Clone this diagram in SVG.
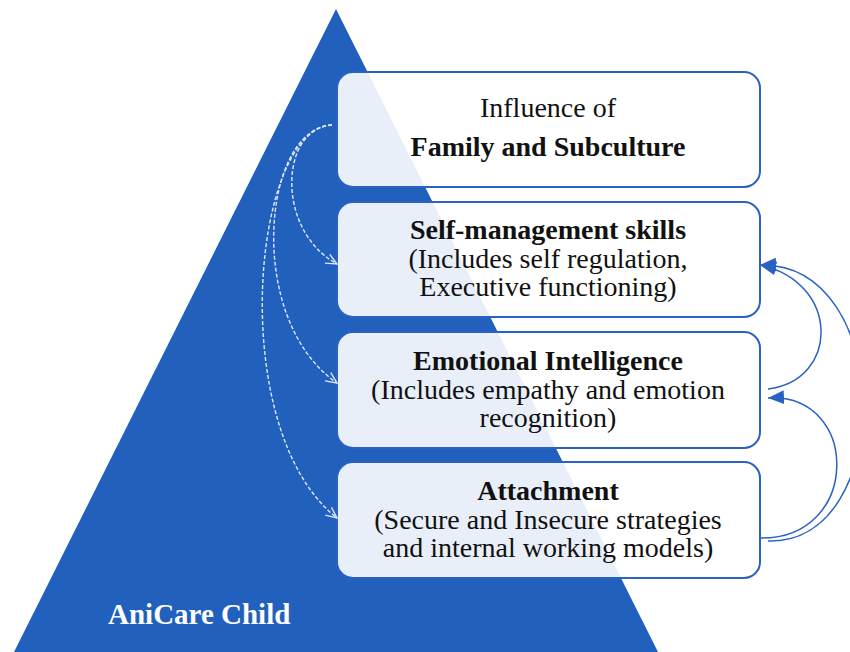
<svg xmlns="http://www.w3.org/2000/svg" width="850" height="652" viewBox="0 0 850 652">
<style>
.box{fill:#ffffff;fill-opacity:0.9;stroke:#2a62c2;stroke-width:2}
.t{font-family:"Liberation Serif","Times New Roman",serif;font-size:28px;fill:#111;text-anchor:middle}
.b{font-weight:bold}
.dash{fill:none;stroke:#dde7f7;stroke-width:1.4;stroke-dasharray:4 2}
.solid{fill:none;stroke:#2a62c4;stroke-width:1.5}
</style>
<defs>
<marker id="chev" markerWidth="14" markerHeight="14" refX="12" refY="6" orient="auto" markerUnits="userSpaceOnUse">
<path d="M1,1 L12,6 L1,11" fill="none" stroke="#dde7f7" stroke-width="1.4"/>
</marker>
<marker id="tri" markerWidth="18" markerHeight="16" refX="16" refY="7" orient="auto" markerUnits="userSpaceOnUse">
<path d="M0,0 L16,7 L0,14 Z" fill="#2a62c4"/>
</marker>
</defs>
<rect width="850" height="652" fill="#ffffff"/>
<polygon id="pyramid" points="336,9 658,652 14,652" fill="#2260bd"/>
<g id="n1"><rect class="box" x="337" y="72" width="423" height="115" rx="16"/>
<text class="t" x="548" y="117">Influence of</text>
<text class="t b" x="548" y="156">Family and Subculture</text></g>
<g id="n2"><rect class="box" x="337" y="202" width="423" height="115" rx="16"/>
<text class="t b" x="548" y="239">Self-management skills</text>
<text class="t" x="548" y="268">(Includes self regulation,</text>
<text class="t" x="548" y="296">Executive functioning)</text></g>
<g id="n3"><rect class="box" x="337" y="332" width="423" height="116" rx="16"/>
<text class="t b" x="548" y="370">Emotional Intelligence</text>
<text class="t" x="548" y="399">(Includes empathy and emotion</text>
<text class="t" x="548" y="427">recognition)</text></g>
<g id="n4"><rect class="box" x="337" y="462" width="423" height="116" rx="16"/>
<text class="t b" x="548" y="500">Attachment</text>
<text class="t" x="548" y="529">(Secure and Insecure strategies</text>
<text class="t" x="548" y="557">and internal working models)</text></g>
<g id="label"><text x="108" y="624" font-family="Liberation Serif,'Times New Roman',serif" font-size="29" font-weight="bold" fill="#ffffff">AniCare Child</text></g>
<g id="connectors">
<path class="dash" d="M332,125 C280,128 275,230 337,264" marker-end="url(#chev)"/>
<path class="dash" d="M332,125 C262,128 245,320 337,383" marker-end="url(#chev)"/>
<path class="dash" d="M332,125 C252,128 225,430 337,518" marker-end="url(#chev)"/>
<path class="solid" d="M768,389 C840,380 840,282 760,265" marker-end="url(#tri)"/>
<path class="solid" d="M768,541 C896,545 896,262 760,265" marker-end="url(#tri)"/>
<path class="solid" d="M760,538 C861,540 861,393 768,398" marker-end="url(#tri)"/>
</g>
</svg>
